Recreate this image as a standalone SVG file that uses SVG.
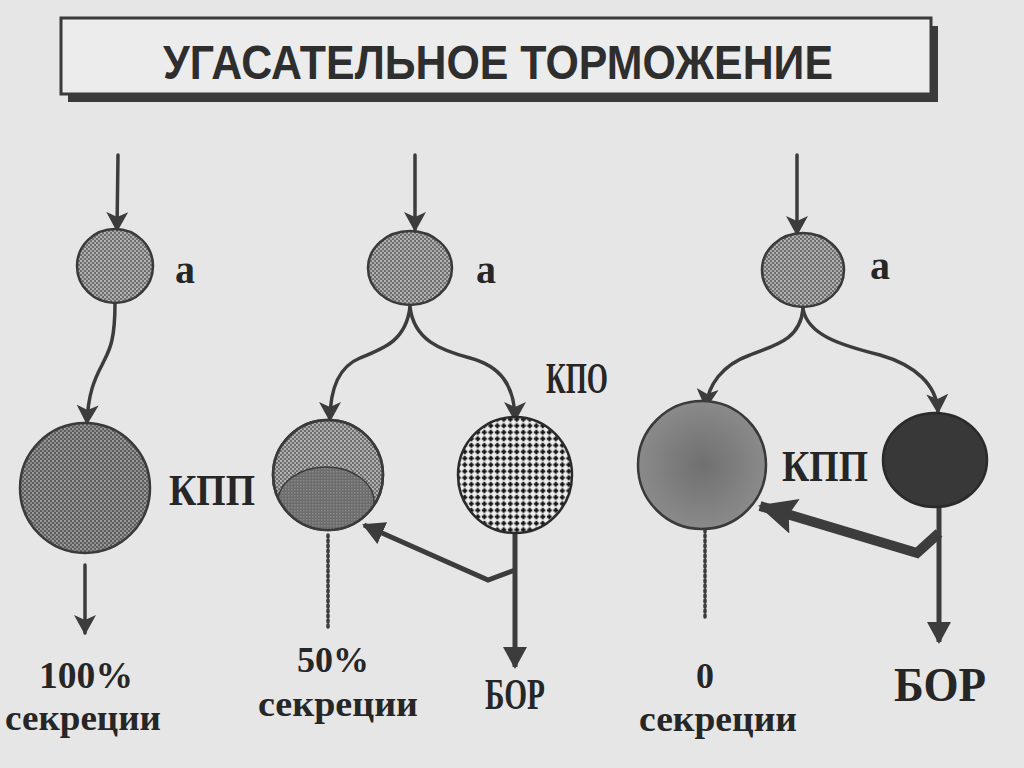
<svg xmlns="http://www.w3.org/2000/svg" width="1024" height="768" viewBox="0 0 1024 768">
<defs>
<style>
.ln{fill:none;stroke:#3c3c3c;stroke-width:3.5;stroke-linecap:round}
.lbl{font-family:"Liberation Serif","Times New Roman",serif;font-weight:bold;fill:#262626;text-anchor:middle}
.title{font-family:"Liberation Sans",Arial,sans-serif;font-weight:bold;fill:#2e2e2e;text-anchor:middle}
</style>
<pattern id="chk" width="4" height="4" patternUnits="userSpaceOnUse">
<rect width="4" height="4" fill="#6e6e6e"/>
<rect width="2" height="2" fill="#b4b4b4"/>
<rect x="2" y="2" width="2" height="2" fill="#a8a8a8"/>
</pattern>
<pattern id="chkd" width="4" height="4" patternUnits="userSpaceOnUse">
<rect width="4" height="4" fill="#5e5e5e"/>
<rect width="2" height="2" fill="#9a9a9a"/>
<rect x="2" y="2" width="2" height="2" fill="#8c8c8c"/>
</pattern>
<pattern id="fine" width="3" height="3" patternUnits="userSpaceOnUse">
<rect width="3" height="3" fill="#6c6c6c"/>
<rect width="1.5" height="1.5" fill="#8a8a8a"/>
</pattern>
<pattern id="grid" width="6.5" height="6.5" patternUnits="userSpaceOnUse">
<rect width="6.5" height="6.5" fill="#eeeeee"/>
<rect x="0.8" y="2.3" width="5" height="2" fill="#111"/>
<rect x="2.3" y="0.8" width="2" height="5" fill="#111"/>
</pattern>
<radialGradient id="rg" cx="0.5" cy="0.5" r="0.5">
<stop offset="0" stop-color="#707070"/>
<stop offset="1" stop-color="#8a8a8a"/>
</radialGradient>
<clipPath id="cm"><circle cx="328" cy="475" r="55"/></clipPath>
<marker id="arr" markerWidth="24" markerHeight="22" refX="18" refY="11" orient="auto" markerUnits="userSpaceOnUse">
<path d="M0,0 L20,11 L0,22 L5,11 Z" fill="#3c3c3c"/>
</marker>
<marker id="arrS" markerWidth="24" markerHeight="24" refX="20" refY="12" orient="auto" markerUnits="userSpaceOnUse">
<path d="M0,0 L22,12 L0,24 Z" fill="#3c3c3c"/>
</marker>
<marker id="arrB" markerWidth="40" markerHeight="36" refX="36" refY="18" orient="auto" markerUnits="userSpaceOnUse">
<path d="M0,0 L38,18 L0,36 L6,18 Z" fill="#3c3c3c"/>
</marker>
</defs>
<rect width="1024" height="768" fill="#e6e6e6"/>

<g id="title">
<rect x="68" y="26" width="870" height="76" fill="#3a3a3a"/>
<rect x="61" y="18" width="870" height="76" fill="#ececec" stroke="#3a3a3a" stroke-width="3"/>
<text class="title" x="498" y="79" font-size="48" textLength="670" lengthAdjust="spacingAndGlyphs">УГАСАТЕЛЬНОЕ ТОРМОЖЕНИЕ</text>
</g>

<g id="connectors">
<line class="ln" x1="118" y1="155" x2="117" y2="230" marker-end="url(#arr)"/>
<path class="ln" d="M115,303 C115,345 108,352 102,365 C94,380 88,395 87,423" marker-end="url(#arr)"/>
<line class="ln" x1="85" y1="565" x2="85" y2="633" marker-end="url(#arr)"/>
<line class="ln" x1="415" y1="155" x2="415" y2="230" marker-end="url(#arr)"/>
<path class="ln" d="M410,307 C406,340 385,348 360,358 C338,367 330,390 330,420" marker-end="url(#arr)"/>
<path class="ln" d="M410,307 C414,340 440,350 470,358 C500,366 515,385 515,420" marker-end="url(#arr)"/>
<line class="ln" x1="328" y1="535" x2="328" y2="630" stroke-dasharray="2 3" stroke-width="2.5"/>
<line x1="515" y1="533" x2="515" y2="667" stroke="#3c3c3c" stroke-width="5" marker-end="url(#arrS)"/>
<path d="M515,570 L488,580 L364,525" fill="none" stroke="#3c3c3c" stroke-width="5" stroke-linejoin="miter" marker-end="url(#arrS)"/>
<line class="ln" x1="797" y1="155" x2="797" y2="234" marker-end="url(#arr)"/>
<path class="ln" d="M803,309 C800,340 775,345 750,355 C722,365 708,385 706,407" marker-end="url(#arr)"/>
<path class="ln" d="M803,309 C808,335 840,345 880,355 C915,365 937,385 938,412" marker-end="url(#arr)"/>
<line class="ln" x1="705" y1="530" x2="705" y2="620" stroke-dasharray="2 3" stroke-width="2.5"/>
<line x1="939" y1="507" x2="939" y2="642" stroke="#3c3c3c" stroke-width="5" marker-end="url(#arrS)"/>
<path d="M939,533 L917,553 L760,506" fill="none" stroke="#3c3c3c" stroke-width="10" stroke-linejoin="miter" marker-end="url(#arrB)"/>
</g>

<g id="left-a">
<ellipse cx="115" cy="266" rx="38" ry="37" fill="url(#chk)" stroke="#3a3a3a" stroke-width="2.5"/>
<text class="lbl" x="185" y="283" font-size="40">а</text>
</g>
<g id="left-kpp">
<circle cx="85" cy="488" r="65" fill="url(#chkd)" stroke="#3a3a3a" stroke-width="2.5"/>
<text class="lbl" x="212" y="505" font-size="44" textLength="86" lengthAdjust="spacingAndGlyphs">КПП</text>
</g>
<g id="left-out">
<text class="lbl" x="86" y="688" font-size="38" textLength="94" lengthAdjust="spacingAndGlyphs">100%</text>
<text class="lbl" x="83" y="730" font-size="36" textLength="156" lengthAdjust="spacingAndGlyphs">секреции</text>
</g>

<g id="mid-a">
<ellipse cx="410" cy="268" rx="42" ry="37" fill="url(#chk)" stroke="#3a3a3a" stroke-width="2.5"/>
<text class="lbl" x="486" y="283" font-size="40">а</text>
</g>
<g id="mid-kpp">
<circle cx="328" cy="475" r="55" fill="url(#chk)" stroke="#3a3a3a" stroke-width="2.5"/>
<ellipse cx="326" cy="502" rx="48" ry="35" fill="url(#fine)" stroke="#3a3a3a" stroke-width="1.5" clip-path="url(#cm)"/>
<circle cx="328" cy="475" r="55" fill="none" stroke="#3a3a3a" stroke-width="2.5"/>
</g>
<g id="mid-kpo">
<ellipse cx="515" cy="475" rx="57" ry="58" fill="url(#grid)" stroke="#2a2a2a" stroke-width="2.5"/>
<text class="lbl" x="577" y="393" font-size="44" textLength="62" lengthAdjust="spacingAndGlyphs">КПО</text>
</g>
<g id="mid-out">
<text class="lbl" x="333" y="672" font-size="36" textLength="72" lengthAdjust="spacingAndGlyphs">50%</text>
<text class="lbl" x="338" y="716" font-size="36" textLength="160" lengthAdjust="spacingAndGlyphs">секреции</text>
<text class="lbl" x="515" y="709" font-size="44" textLength="60" lengthAdjust="spacingAndGlyphs">БОР</text>
</g>

<g id="right-a">
<ellipse cx="803" cy="270" rx="41" ry="37" fill="url(#chk)" stroke="#3a3a3a" stroke-width="2.5"/>
<text class="lbl" x="880" y="279" font-size="40">а</text>
</g>
<g id="right-kpp">
<circle cx="702" cy="465" r="64" fill="url(#rg)" stroke="#3a3a3a" stroke-width="2.5"/>
<text class="lbl" x="825" y="481" font-size="44" textLength="86" lengthAdjust="spacingAndGlyphs">КПП</text>
</g>
<g id="right-dark">
<ellipse cx="935" cy="460" rx="52" ry="47" fill="#383838" stroke="#2a2a2a" stroke-width="2.5"/>
</g>
<g id="right-out">
<text class="lbl" x="705" y="688" font-size="36">0</text>
<text class="lbl" x="718" y="731" font-size="36" textLength="158" lengthAdjust="spacingAndGlyphs">секреции</text>
<text class="lbl" x="940" y="701" font-size="48" textLength="92" lengthAdjust="spacingAndGlyphs">БОР</text>
</g>
</svg>
